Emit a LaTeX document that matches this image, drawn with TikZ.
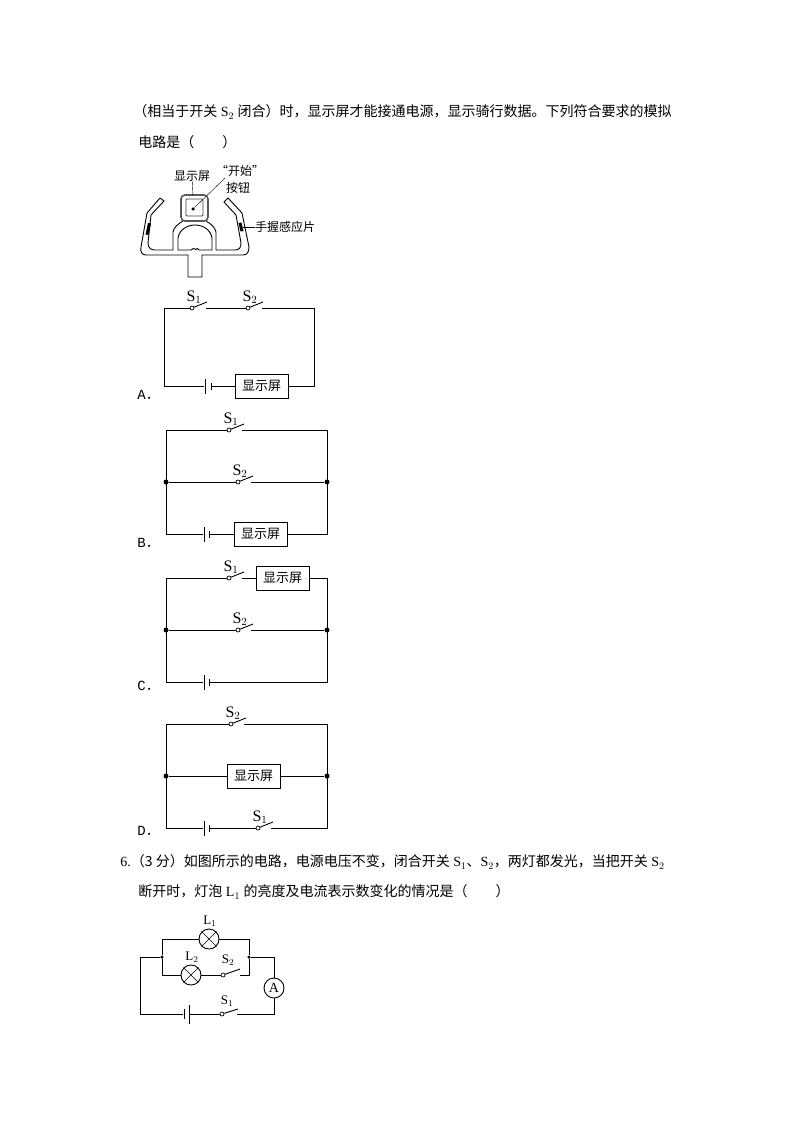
\documentclass[tikz,border=0pt]{standalone}
\usepackage{fontspec}
\usepackage{amsmath}
\setmainfont{Liberation Serif}
\setmonofont{Liberation Mono}
\newfontfamily\zh{Noto Sans CJK SC}
\usetikzlibrary{positioning}

\begin{document}
\begin{tikzpicture}[x=1pt,y=-1pt,line width=0.9pt,
    wire/.style={
% The border:
line width=0.9pt, draw,
},
    contact/.style={
% The shape:
circle,
% The size:
minimum size=4pt, inner sep=0pt,
% The border:
line width=0.7pt, draw, fill=white,
},
    junction/.style={
% The shape:
circle,
% The size:
minimum size=5pt, inner sep=0pt,
% The fill:
fill=black,
},
    longplate/.style={
% The shape:
rectangle,
% The size:
minimum height=15pt, minimum width=1pt, inner sep=0pt,
% The fill:
fill=black,
},
    shortplate/.style={
% The shape:
rectangle,
% The size:
minimum height=7pt, minimum width=1pt, inner sep=0pt,
% The fill:
fill=black,
},
    screen/.style={
% The shape:
rectangle,
% The size:
minimum height=24pt, minimum width=53pt, inner sep=0pt,
% The border:
line width=0.9pt, draw, fill=white,
% The text:
font=\zh\fontsize{13}{13}\selectfont,
},
    lamp/.style={
% The shape:
circle,
% The size:
minimum size=20pt, inner sep=0pt,
% The border:
line width=0.9pt, draw, fill=white,
},
    body/.style={anchor=west,inner sep=0pt,font=\fontsize{14}{14}\selectfont},
    tag/.style={inner sep=0pt,font=\fontsize{16}{16}\selectfont},
    smalltag/.style={inner sep=0pt,font=\fontsize{13}{13}\selectfont},
    choice/.style={anchor=west,inner sep=0pt,font=\ttfamily\fontsize{14}{14}\selectfont},
    note/.style={inner sep=0pt,font=\zh\fontsize{12}{12}\selectfont},
]
  \useasboundingbox (0,0) rectangle (794,1123);
  \fill[white] (0,0) rectangle (794,1123);

  % running text
  \node[body] (line1) at (133,112) {{\zh（相当于开关} S$_2$ {\zh 闭合）时，显示屏才能接通电源，显示骑行数据。下列符合要求的模拟}};
  \node[body] (line2) at (138,142) {{\zh 电路是（\hspace{2em}）}};
  \node[body] (line3) at (120,862) {6.{\zh （3 分）如图所示的电路，电源电压不变，闭合开关} S$_1${\zh 、}S$_2${\zh ，两灯都发光，当把开关} S$_2$};
  \node[body] (line4) at (138,892) {{\zh 断开时，灯泡} L$_1$ {\zh 的亮度及电流表示数变化的情况是（\hspace{2em}）}};

  % handlebar
  \draw (160,198) -- (164,201) -- (151,215) -- (148,243)
    .. controls (148,248) and (151,250) .. (155,250)
    -- (173,250) -- (173,232) .. controls (174,227) and (178,224) .. (183,221);
  \draw (160,198) -- (147,213) -- (141,247)
    .. controls (140,252) and (142,255) .. (146,255) -- (188,255) -- (188,277)
    -- (202,277) -- (202,255) -- (243,255)
    .. controls (247,255) and (249,252) .. (249,247) -- (242,213) -- (228,198) -- (224,202)
    -- (236,215) -- (241,243) .. controls (241,248) and (239,250) .. (235,250)
    -- (216,250) -- (216,232) .. controls (215,227) and (211,224) .. (206,221);
  \draw (178,250) -- (178,238)
    .. controls (179,230) and (187,225) .. (195,225)
    .. controls (203,225) and (211,230) .. (212,238) -- (212,250) -- (199,250)
    .. controls (198,248) and (197,248) .. (196,249.5)
    .. controls (195,248) and (192,248) .. (191,250) -- cycle;
  \draw[line width=1.6pt,black!65,rounded corners=4pt] (181,195) rectangle (208,221);
  \draw[line width=0.9pt,black!75,rounded corners=1pt] (186,199) rectangle (203,216);
  \fill[black] (148,223) -- (151,223.5) -- (148.5,235) -- (145.5,234.5) -- cycle;
  \fill[black] (238.5,223) -- (241.5,222.5) -- (243.5,231) -- (240.5,231.5) -- cycle;

  \node[note] (showtag) at (192,176) {显示屏};
  \node[note] (starttag) at (240,171) {“开始”};
  \node[note] (buttontag) at (238,188) {按钮};
  \node[note] (griptag) at (285,227) {手握感应片};
  \node[junction,minimum size=3.5pt] (dot) at (193,209) {};
  \coordinate (showend) at (193,196);
  \coordinate (startend) at (225,178);
  \coordinate (gripend) at (243,227);
  \draw[thin] (showtag) -- (showend);
  \draw[thin] (dot) -- (startend);
  \draw[thin] (griptag) -- (gripend);

  % A
  \coordinate (a-tl) at (164,308);
  \coordinate (a-tr) at (314,308);
  \coordinate (a-bl) at (164,386);
  \coordinate (a-br) at (314,386);
  \node[contact]    (a-s1) at (192,308) {};
  \node[contact]    (a-s2) at (248,308) {};
  \coordinate (a-s1lever) at (207,302);
  \coordinate (a-s2lever) at (263,302);
  \coordinate (a-s1gap) at (206,308);
  \coordinate (a-s2gap) at (262,308);
  \node[longplate]  (a-pl) at (205,386) {};
  \node[shortplate] (a-ps) at (211,386) {};
  \node[screen]     (a-show) at (261.5,386) {显示屏};
  \node[tag] (a-l1) at (194,297) {S$_1$};
  \node[tag] (a-l2) at (250,297) {S$_2$};
  \node[choice] (a-tag) at (137,395) {A{\zh ．}};
  \draw[wire] (a-s1) -- (a-tl) -- (a-bl) -- (a-pl);
  \draw[wire] (a-s1) -- (a-s1lever);
  \draw[wire] (a-s1gap) -- (a-s2);
  \draw[wire] (a-s2) -- (a-s2lever);
  \draw[wire] (a-s2gap) -- (a-tr) -- (a-br) -- (a-show);
  \draw[wire] (a-ps) -- (a-show);

  % B
  \coordinate (b-tl) at (166,430);
  \coordinate (b-tr) at (327,430);
  \coordinate (b-bl) at (166,534);
  \coordinate (b-br) at (327,534);
  \node[junction]   (b-jl) at (166,482) {};
  \node[junction]   (b-jr) at (327,482) {};
  \node[contact]    (b-s1) at (229,430) {};
  \node[contact]    (b-s2) at (238,482) {};
  \coordinate (b-s1lever) at (244,424);
  \coordinate (b-s2lever) at (253,476);
  \coordinate (b-s1gap) at (242,430);
  \coordinate (b-s2gap) at (251,482);
  \node[longplate]  (b-pl) at (204,534) {};
  \node[shortplate] (b-ps) at (209,534) {};
  \node[screen]     (b-show) at (260.5,534) {显示屏};
  \node[tag] (b-l1) at (231,419) {S$_1$};
  \node[tag] (b-l2) at (240,471) {S$_2$};
  \node[choice] (b-tag) at (137,543) {B{\zh ．}};
  \draw[wire] (b-s1) -- (b-tl) -- (b-bl) -- (b-pl);
  \draw[wire] (b-s1) -- (b-s1lever);
  \draw[wire] (b-s1gap) -- (b-tr) -- (b-br) -- (b-show);
  \draw[wire] (b-jl) -- (b-s2);
  \draw[wire] (b-s2) -- (b-s2lever);
  \draw[wire] (b-s2gap) -- (b-jr);
  \draw[wire] (b-ps) -- (b-show);

  % C
  \coordinate (c-tl) at (166,578);
  \coordinate (c-tr) at (327,578);
  \coordinate (c-bl) at (166,682);
  \coordinate (c-br) at (327,682);
  \node[junction]   (c-jl) at (166,630) {};
  \node[junction]   (c-jr) at (327,630) {};
  \node[contact]    (c-s1) at (229,578) {};
  \node[contact]    (c-s2) at (238,630) {};
  \coordinate (c-s1lever) at (244,572);
  \coordinate (c-s2lever) at (253,624);
  \coordinate (c-s1gap) at (242,578);
  \coordinate (c-s2gap) at (251,630);
  \node[longplate]  (c-pl) at (204,682) {};
  \node[shortplate] (c-ps) at (209,682) {};
  \node[screen]     (c-show) at (282.5,578) {显示屏};
  \node[tag] (c-l1) at (231,567) {S$_1$};
  \node[tag] (c-l2) at (240,619) {S$_2$};
  \node[choice] (c-tag) at (137,686) {C{\zh ．}};
  \draw[wire] (c-s1) -- (c-tl) -- (c-bl) -- (c-pl);
  \draw[wire] (c-s1) -- (c-s1lever);
  \draw[wire] (c-s1gap) -- (c-show);
  \draw[wire] (c-show) -- (c-tr) -- (c-br) -- (c-ps);
  \draw[wire] (c-jl) -- (c-s2);
  \draw[wire] (c-s2) -- (c-s2lever);
  \draw[wire] (c-s2gap) -- (c-jr);

  % D
  \coordinate (d-tl) at (166,724);
  \coordinate (d-tr) at (327,724);
  \coordinate (d-bl) at (166,828);
  \coordinate (d-br) at (327,828);
  \node[junction]   (d-jl) at (166,776) {};
  \node[junction]   (d-jr) at (327,776) {};
  \node[contact]    (d-s2) at (231,724) {};
  \node[contact]    (d-s1) at (258,828) {};
  \coordinate (d-s2lever) at (246,718);
  \coordinate (d-s1lever) at (273,822);
  \coordinate (d-s2gap) at (244,724);
  \coordinate (d-s1gap) at (271,828);
  \node[longplate]  (d-pl) at (204,828) {};
  \node[shortplate] (d-ps) at (209,828) {};
  \node[screen]     (d-show) at (253.5,776) {显示屏};
  \node[tag] (d-l2) at (233,713) {S$_2$};
  \node[tag] (d-l1) at (260,817) {S$_1$};
  \node[choice] (d-tag) at (137,831) {D{\zh ．}};
  \draw[wire] (d-s2) -- (d-tl) -- (d-bl) -- (d-pl);
  \draw[wire] (d-s2) -- (d-s2lever);
  \draw[wire] (d-s2gap) -- (d-tr) -- (d-br) -- (d-s1gap);
  \draw[wire] (d-jl) -- (d-show);
  \draw[wire] (d-show) -- (d-jr);
  \draw[wire] (d-ps) -- (d-s1);
  \draw[wire] (d-s1) -- (d-s1lever);

  % question 6
  \coordinate (e-ol) at (140,957);
  \coordinate (e-bl) at (140,1014);
  \coordinate (e-or) at (274,957);
  \coordinate (e-br) at (274,1014);
  \coordinate (e-ul) at (162,939);
  \coordinate (e-ur) at (249,939);
  \coordinate (e-ll) at (162,975);
  \coordinate (e-lr) at (249,975);
  \node[junction,minimum size=3.5pt] (e-jl) at (162,957) {};
  \node[junction,minimum size=3.5pt] (e-jr) at (249,957) {};
  \node[lamp] (e-l1) at (209,939) {};
  \node[lamp] (e-l2) at (191,975) {};
  \node[lamp,font=\fontsize{14}{14}\selectfont] (e-am) at (274,988) {A};
  \draw[thin] (e-l1.north west) -- (e-l1.south east) (e-l1.north east) -- (e-l1.south west);
  \draw[thin] (e-l2.north west) -- (e-l2.south east) (e-l2.north east) -- (e-l2.south west);
  \node[contact] (e-s2) at (223,975) {};
  \node[contact] (e-s1) at (222,1014) {};
  \coordinate (e-s2lever) at (240,969);
  \coordinate (e-s1lever) at (238,1009);
  \coordinate (e-s2gap) at (240,975);
  \coordinate (e-s1gap) at (237,1014);
  \node[shortplate,minimum height=10pt] (e-ps) at (184,1014) {};
  \node[longplate,minimum height=19pt]  (e-pl) at (189,1014) {};
  \node[smalltag] (e-t1) at (210,921) {L$_1$};
  \node[smalltag] (e-t2) at (192,957) {L$_2$};
  \node[smalltag] (e-t3) at (228,960) {S$_2$};
  \node[smalltag] (e-t4) at (227,1001) {S$_1$};
  \draw[wire] (e-jl) -- (e-ol) -- (e-bl) -- (e-ps);
  \draw[wire] (e-pl) -- (e-s1);
  \draw[wire] (e-s1) -- (e-s1lever);
  \draw[wire] (e-s1gap) -- (e-br) -- (e-am);
  \draw[wire] (e-am) -- (e-or) -- (e-jr);
  \draw[wire] (e-jl) -- (e-ul) -- (e-l1);
  \draw[wire] (e-l1) -- (e-ur) -- (e-jr);
  \draw[wire] (e-jl) -- (e-ll) -- (e-l2);
  \draw[wire] (e-l2) -- (e-s2);
  \draw[wire] (e-s2) -- (e-s2lever);
  \draw[wire] (e-s2gap) -- (e-lr) -- (e-jr);
\end{tikzpicture}
\end{document}
